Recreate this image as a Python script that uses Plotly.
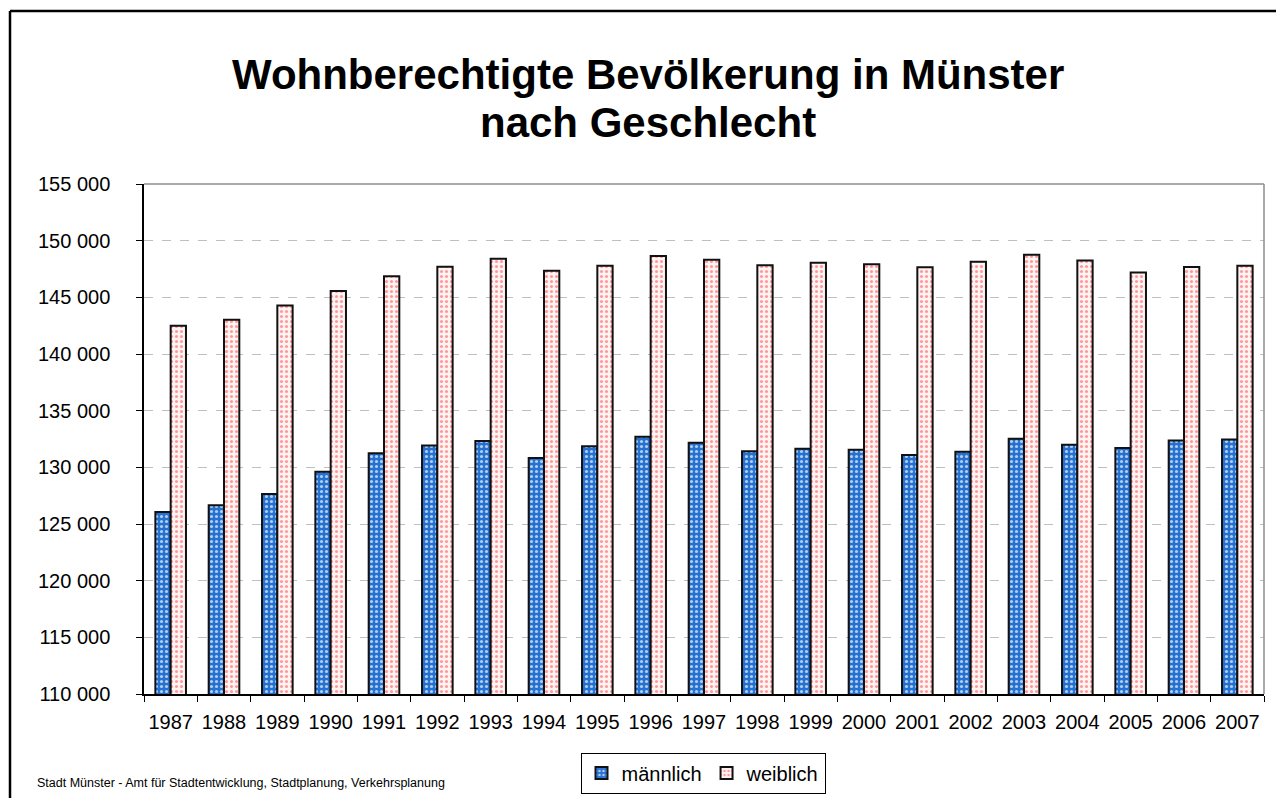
import plotly.graph_objects as go

years = [str(y) for y in range(1987, 2008)]
maennlich = [126060, 126650, 127650, 129620, 131240, 131920, 132330, 130830, 131850, 132700,
             132180, 131410, 131650, 131560, 131090, 131380, 132530, 132000, 131710, 132360, 132450]
weiblich = [142500, 143030, 144290, 145560, 146850, 147700, 148410, 147350, 147790, 148650,
            148320, 147820, 148060, 147910, 147650, 148150, 148760, 148260, 147200, 147680, 147790]
y_ticks = list(range(110000, 155001, 5000))
y_tick_labels = [f"{v:,}".replace(",", " ") for v in y_ticks]

# page body has an 8px margin; screen coords are converted to figure coords
OFF = 8
W, H = 1284 - OFF, 798 - OFF
PL, PR, PT, PB = 144 - OFF, 1264 - OFF, 184 - OFF, 694 - OFF  # plot area in figure coords
L, R, T, B = PL, W - PR, PT, H - PB
pw = PR - PL
ph = PB - PT


def px(sx):
    return (sx - OFF - PL) / pw


def py(sy):
    return (PB - (sy - OFF)) / ph


def cx(sx):
    return (sx - OFF) / W


def cy(sy):
    return 1 - (sy - OFF) / H


fig = go.Figure()
fig.add_bar(
    x=years, y=maennlich, name="männlich",
    marker=dict(color="#2571D2", line=dict(color="#111111", width=2),
                pattern=dict(shape=".", bgcolor="#2571D2", fgcolor="#FFFFFF",
                             fgopacity=0.65, size=5, solidity=0.3, fillmode="replace")),
)
fig.add_bar(
    x=years, y=weiblich, name="weiblich",
    marker=dict(color="#FFF2F2", line=dict(color="#111111", width=2),
                pattern=dict(shape=".", bgcolor="#FFF4F4", fgcolor="#FF8F8F",
                             fgopacity=0.9, size=5, solidity=0.3, fillmode="replace")),
)

shapes = [
    # outer chart border (top and left visible)
    dict(type="line", xref="paper", yref="paper",
         x0=px(10), x1=px(1300), y0=py(11), y1=py(11),
         line=dict(color="black", width=2.5)),
    dict(type="line", xref="paper", yref="paper",
         x0=px(10), x1=px(10), y0=py(11), y1=py(820),
         line=dict(color="black", width=2.5)),
    # plot area border top and right (gray)
    dict(type="line", xref="paper", yref="paper", x0=0, x1=1, y0=1, y1=1,
         line=dict(color="#8C8C8C", width=1.5)),
    dict(type="line", xref="paper", yref="paper", x0=1, x1=1, y0=0, y1=1,
         line=dict(color="#8C8C8C", width=1.5)),
]

annotations = [
    dict(text="<b>Wohnberechtigte Bevölkerung in Münster</b>", xref="paper", yref="paper",
         x=px(648), y=py(74), xanchor="center", yanchor="middle", showarrow=False,
         font=dict(size=42, color="black")),
    dict(text="<b>nach Geschlecht</b>", xref="paper", yref="paper",
         x=px(648), y=py(122), xanchor="center", yanchor="middle", showarrow=False,
         font=dict(size=42, color="black")),
    dict(text="Stadt Münster - Amt für Stadtentwicklung, Stadtplanung, Verkehrsplanung",
         xref="paper", yref="paper", x=px(35), y=py(783),
         xanchor="left", yanchor="middle", showarrow=False,
         font=dict(size=12.5, color="black")),
]

fig.update_layout(
    template="none",
    width=W, height=H,
    margin=dict(l=L, r=R, t=T, b=B, pad=0, autoexpand=False),
    paper_bgcolor="white", plot_bgcolor="white",
    font=dict(family="Arial, Liberation Sans, sans-serif", size=20, color="black"),
    barmode="group", bargap=0.426, bargroupgap=0,
    showlegend=True,
    legend=dict(orientation="h", xref="container", yref="container",
                x=cx(703), xanchor="center", y=cy(773), yanchor="middle",
                bordercolor="black", borderwidth=1, bgcolor="white",
                font=dict(size=20), itemwidth=30, tracegroupgap=0),
    shapes=shapes,
    annotations=annotations,
)
fig.update_xaxes(type="category", showline=True, linecolor="black", linewidth=1.5,
                 ticks="outside", tickson="boundaries", ticklen=6, tickcolor="black",
                 tickwidth=1, tickangle=0, tickfont=dict(size=20), showgrid=False,
                 automargin=False, ticklabelstandoff=9)
fig.update_yaxes(range=[110000, 155000], tickvals=y_ticks, ticktext=y_tick_labels,
                 showline=True, linecolor="black", linewidth=1.5,
                 ticks="outside", ticklen=6, tickcolor="black", tickwidth=1,
                 tickfont=dict(size=20),
                 showgrid=True, gridcolor="#BFBFBF", gridwidth=1, griddash="dash",
                 zeroline=False, automargin=False, ticklabelstandoff=22)

fig.write_html("out.html")
